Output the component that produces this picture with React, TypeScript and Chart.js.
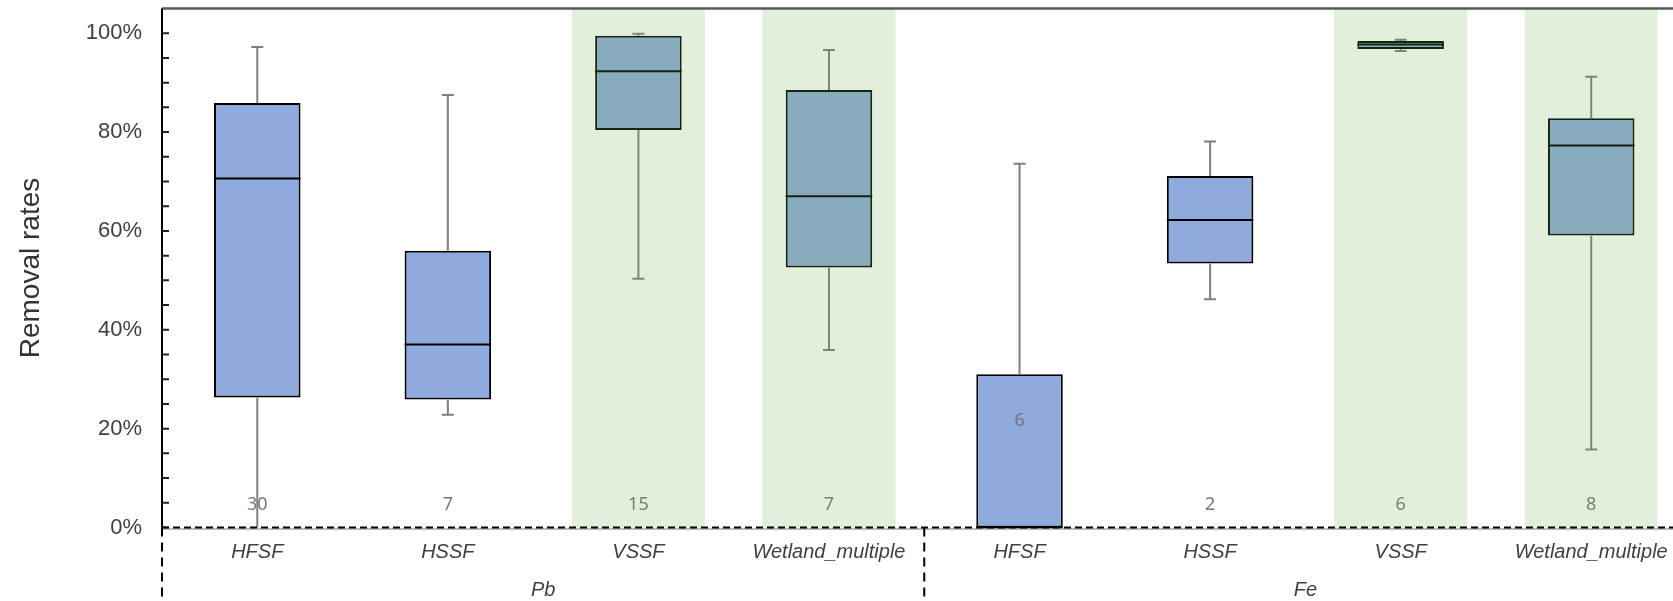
import { useEffect, useRef } from "react";
import { Chart, registerables } from "chart.js";

Chart.register(...registerables);

// ---- data ----
const categories = ["HFSF", "HSSF", "VSSF", "Wetland_multiple", "HFSF", "HSSF", "VSSF", "Wetland_multiple"];
const groups = ["Pb", "Fe"];
const whiskerMin = [0, 22.8, 50.3, 35.9, 0, 46.2, 96.4, 15.8];
const q1 = [26.3, 25.9, 80.4, 52.6, 0, 53.4, 96.8, 59.1];
const median = [70.6, 37.0, 92.3, 67.0, 0, 62.2, 97.7, 77.3];
const q3 = [85.9, 56.0, 99.5, 88.5, 31.0, 71.1, 98.4, 82.8];
const whiskerMax = [97.2, 87.5, 99.9, 96.6, 73.6, 78.1, 98.7, 91.2];
const counts = [30, 7, 15, 7, 6, 2, 6, 8];
const countLabelAt = [4.5, 4.5, 4.5, 4.5, 21.5, 4.5, 4.5, 4.5];
const shaded = [false, false, true, true, false, false, true, true];
const yTicks = [0, 5, 10, 15, 20, 25, 30, 35, 40, 45, 50, 55, 60, 65, 70, 75, 80, 85, 90, 95, 100, 105];
const yMax = 105;

const FONT = "'Liberation Sans', Arial, sans-serif";

const extras = {
  id: "boxExtras",
  afterDatasetsDraw(chart: any) {
    const { ctx, chartArea: ca, scales } = chart;
    const x = scales.x;
    const y = scales.y;
    const meta = chart.getDatasetMeta(0);
    const catW = x.getPixelForValue(1) - x.getPixelForValue(0);
    const y0 = y.getPixelForValue(0);
    ctx.save();

    categories.forEach((_, i) => {
      const cx = x.getPixelForValue(i);
      const bar = meta.data[i];
      const { x: bx, width: bw } = bar.getProps(["x", "width"], true);
      // whiskers
      ctx.strokeStyle = "#7f7f7f";
      ctx.lineWidth = 2;
      ctx.beginPath();
      ctx.moveTo(cx, y.getPixelForValue(q3[i]));
      ctx.lineTo(cx, y.getPixelForValue(whiskerMax[i]));
      ctx.moveTo(cx, y.getPixelForValue(q1[i]));
      ctx.lineTo(cx, y.getPixelForValue(whiskerMin[i]));
      const cap = 6;
      if (whiskerMax[i] > q3[i]) {
        const py = y.getPixelForValue(whiskerMax[i]);
        ctx.moveTo(cx - cap, py);
        ctx.lineTo(cx + cap, py);
      }
      if (whiskerMin[i] < q1[i] && whiskerMin[i] > 0) {
        const py = y.getPixelForValue(whiskerMin[i]);
        ctx.moveTo(cx - cap, py);
        ctx.lineTo(cx + cap, py);
      }
      ctx.stroke();
      // median
      ctx.strokeStyle = "#000";
      ctx.lineWidth = 2;
      ctx.beginPath();
      const my = y.getPixelForValue(median[i]);
      ctx.moveTo(bx - bw / 2, my);
      ctx.lineTo(bx + bw / 2, my);
      ctx.stroke();
      // count labels
      ctx.fillStyle = "#767676";
      ctx.font = "18px 'Noto Sans', sans-serif";
      ctx.textAlign = "center";
      ctx.textBaseline = "middle";
      ctx.fillText(String(counts[i]), cx, y.getPixelForValue(countLabelAt[i]));
    });

    // shaded bands (translucent overlay)
    categories.forEach((_, i) => {
      if (!shaded[i]) return;
      const cx = x.getPixelForValue(i);
      const w = catW * 0.698;
      const top = y.getPixelForValue(yMax);
      ctx.fillStyle = "rgba(112,173,71,0.2)";
      ctx.fillRect(cx - w / 2, top + 1, w, y0 - top - 1);
    });

    // top border
    ctx.strokeStyle = "#595959";
    ctx.lineWidth = 2.5;
    ctx.beginPath();
    ctx.moveTo(ca.left, ca.top);
    ctx.lineTo(ca.right, ca.top);
    ctx.stroke();

    // y axis line
    ctx.strokeStyle = "#000";
    ctx.lineWidth = 2;
    ctx.beginPath();
    ctx.moveTo(ca.left, ca.top);
    ctx.lineTo(ca.left, y0);
    ctx.stroke();

    // tick marks (inside)
    ctx.strokeStyle = "#222";
    ctx.lineWidth = 2;
    ctx.beginPath();
    yTicks.forEach((v) => {
      if (v > 100) return;
      const py = y.getPixelForValue(v);
      ctx.moveTo(ca.left, py);
      ctx.lineTo(ca.left + 7, py);
    });
    ctx.stroke();

    // 0% baseline: grey solid + black dashed
    ctx.strokeStyle = "#a6a6a6";
    ctx.lineWidth = 1.5;
    ctx.beginPath();
    ctx.moveTo(ca.left, y0 + 1.5);
    ctx.lineTo(ca.right, y0 + 1.5);
    ctx.stroke();
    ctx.strokeStyle = "#000";
    ctx.lineWidth = 2;
    ctx.setLineDash([7, 4]);
    ctx.beginPath();
    ctx.moveTo(ca.left, y0);
    ctx.lineTo(ca.right, y0);
    ctx.stroke();

    // group separators
    ctx.setLineDash([9, 6]);
    ctx.beginPath();
    [-0.5, 3.5].forEach((v) => {
      const px = x.getPixelForValue(v);
      ctx.moveTo(px, y0);
      ctx.lineTo(px, chart.height);
    });
    ctx.stroke();
    ctx.restore();
  },
};

export default function App() {
  const ref = useRef<HTMLCanvasElement>(null);
  useEffect(() => {
    if (!ref.current) return;
    const chart = new Chart(ref.current, {
      type: "bar",
      data: {
        labels: categories,
        datasets: [
          {
            data: q1.map((v, i) => [v, q3[i]]) as any,
            backgroundColor: "#8FAADC",
            borderColor: "#000",
            borderWidth: 2,
            borderSkipped: false,
            barPercentage: 0.454,
            categoryPercentage: 1,
            xAxisID: "x",
            yAxisID: "y",
          },
        ],
      },
      options: {
        responsive: false,
        animation: false,
        devicePixelRatio: 1,
        layout: { padding: { left: 0, right: 13.5, top: 8.5, bottom: 0 } },
        plugins: { legend: { display: false }, tooltip: { enabled: false } },
        scales: {
          x: {
            type: "category",
            position: "bottom",
            offset: true,
            weight: 0,
            grid: { display: false, drawTicks: false },
            border: { display: false },
            ticks: {
              autoSkip: false,
              maxRotation: 0,
              padding: 12.5,
              color: "#404040",
              font: { family: FONT, size: 20, style: "italic" },
            },
            afterFit: (s: any) => {
              s.height = 48;
            },
          },
          x2: {
            type: "category",
            position: "bottom",
            labels: groups,
            offset: true,
            weight: 1,
            grid: { display: false, drawTicks: false },
            border: { display: false },
            ticks: {
              autoSkip: false,
              maxRotation: 0,
              padding: 2.5,
              color: "#404040",
              font: { family: FONT, size: 20, style: "italic" },
            },
            afterFit: (s: any) => {
              s.height = 25.5;
            },
          },
          y: {
            type: "linear",
            min: 0,
            max: yMax,
            grid: { display: false, drawTicks: false },
            border: { display: false },
            afterBuildTicks: (s: any) => {
              s.ticks = yTicks.map((v) => ({ value: v }));
            },
            ticks: {
              padding: 20,
              color: "#404040",
              font: { family: FONT, size: 22 },
              callback: (v: any) => (v % 20 === 0 && v <= 100 ? v + "%" : null),
            },
            title: {
              display: true,
              text: "Removal rates",
              color: "#333",
              font: { family: FONT, size: 28 },
              padding: { top: 14, bottom: 0 },
            },
            afterFit: (s: any) => {
              s.width = 162;
              s.paddingTop = 0;
              s.paddingBottom = 0;
            },
          },
        },
      },
      plugins: [extras],
    });
    return () => chart.destroy();
  }, []);

  return (
    <div
      style={{
        position: "fixed",
        left: 0,
        top: 0,
        width: 1673,
        height: 601,
        overflow: "hidden",
        background: "#fff",
      }}
    >
      <canvas ref={ref} width={1700} height={601} style={{ width: 1700, height: 601, display: "block" }} />
    </div>
  );
}
